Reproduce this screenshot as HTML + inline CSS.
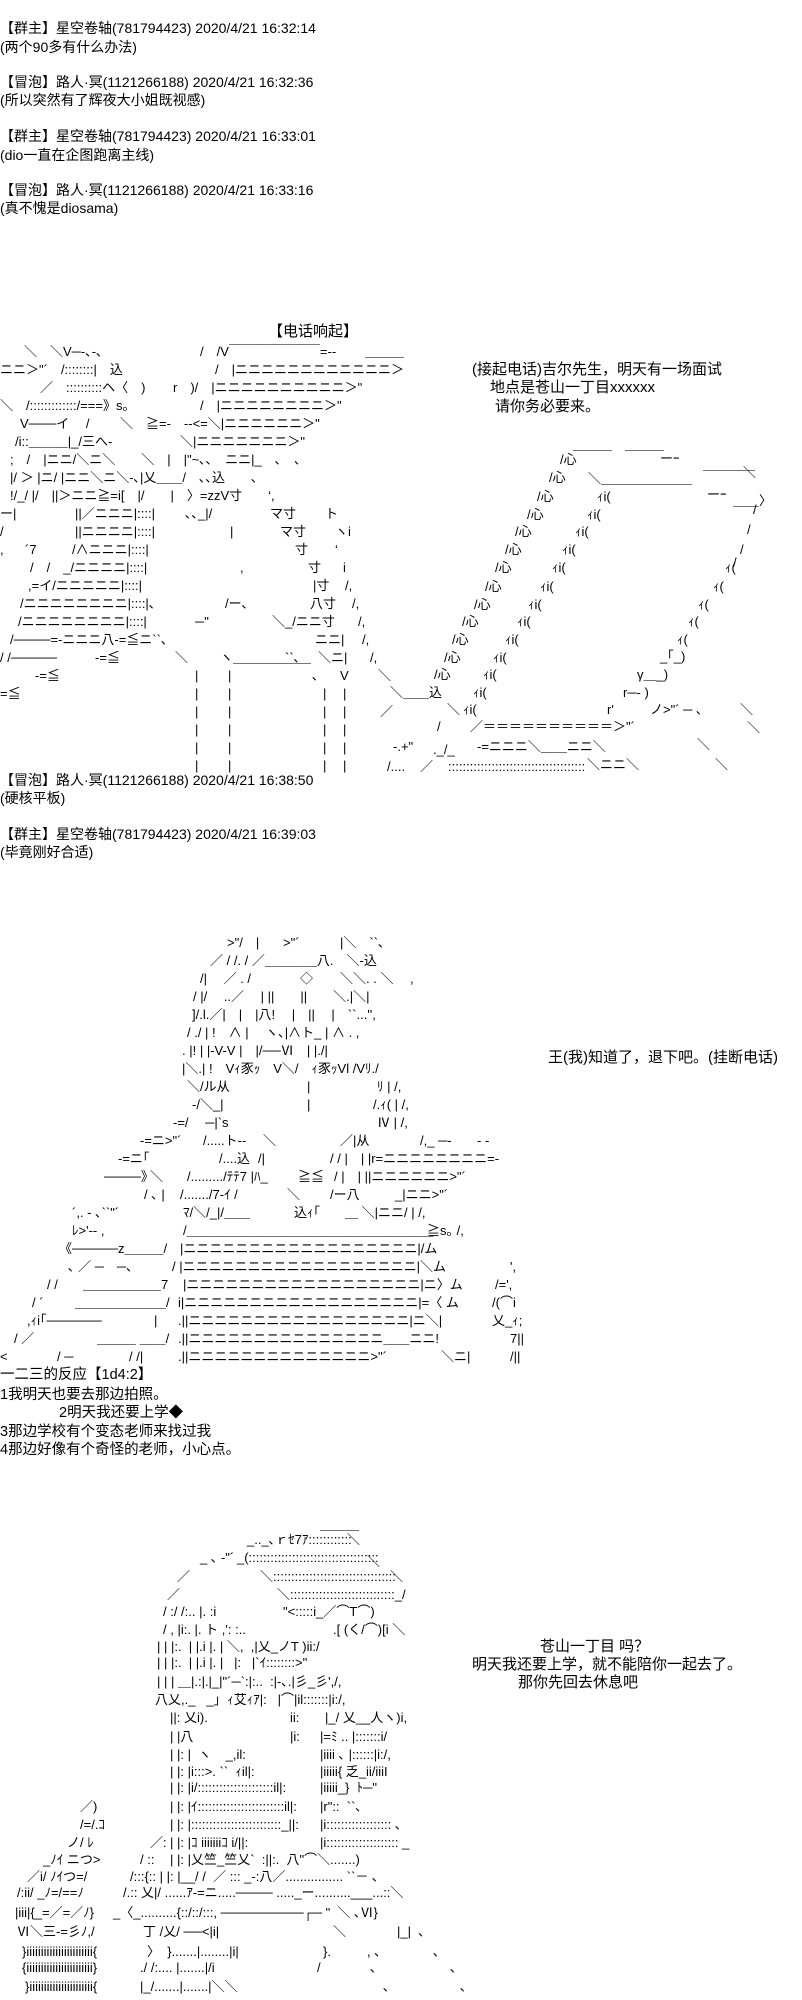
<!DOCTYPE html>
<html><head><meta charset="utf-8">
<style>
html,body{margin:0;padding:0;background:#fff;}
body{width:802px;height:2000px;position:relative;overflow:hidden;color:#000;}
i{position:absolute;font-style:normal;white-space:pre;font-family:"Liberation Sans","Noto Sans CJK JP",sans-serif;font-size:13px;line-height:18px;}
b{position:absolute;font-weight:normal;white-space:pre;font-family:"Liberation Sans","Noto Sans CJK SC",sans-serif;line-height:18px;}
.c{font-size:14px;}
.t{font-size:15px;}
.l{font-size:14.5px;}
</style></head><body>
<!-- chat 1 -->
<b class="c" style="left:0;top:19px">【群主】星空卷轴(781794423) 2020/4/21 16:32:14</b>
<b class="c" style="left:0;top:38px">(两个90多有什么办法)</b>
<b class="c" style="left:0;top:73px">【冒泡】路人·冥(1121266188) 2020/4/21 16:32:36</b>
<b class="c" style="left:0;top:91px">(所以突然有了辉夜大小姐既视感)</b>
<b class="c" style="left:0;top:127px">【群主】星空卷轴(781794423) 2020/4/21 16:33:01</b>
<b class="c" style="left:0;top:146px">(dio一直在企图跑离主线)</b>
<b class="c" style="left:0;top:181px">【冒泡】路人·冥(1121266188) 2020/4/21 16:33:16</b>
<b class="c" style="left:0;top:199px">(真不愧是diosama)</b>

<!-- AA1 -->
<b class="t" style="left:268px;top:323px">【电话响起】</b>
<i style="left:24px;top:343px">＼　＼V─-､-､</i>
<i style="left:200px;top:343px">/　/V￣￣￣￣￣￣￣=--</i>
<i style="left:365px;top:343px">＿＿＿</i>
<i style="left:0;top:361px">ニニ＞"´　/::::::::|　込</i>
<i style="left:215px;top:361px">/　|ニニニニニニニニニニニニ＞</i>
<i style="left:40px;top:379px">／　::::::::::ヘ〈　)</i>
<i style="left:173px;top:379px">r　)/　|ニニニニニニニニニニ＞"</i>
<i style="left:0;top:397px">＼　/:::::::::::::/===》s｡</i>
<i style="left:200px;top:397px">/　|ニニニニニニニニ＞"</i>
<i style="left:20px;top:415px">V───イ　 /</i>
<i style="left:120px;top:415px">＼　≧=-　--<=＼|ニニニニニニ＞"</i>
<i style="left:15px;top:433px">/i::＿＿＿|_/三へ-</i>
<i style="left:180px;top:433px">＼|ニニニニニニニ＞"</i>
<i style="left:10px;top:451px">;　/　|ニニ/＼ニ＼　　＼　|　|"~､､　ニニ|_　､　､</i>
<i style="left:10px;top:469px">|/ ＞ |ニ/ |ニニ＼ニ＼-､|乂＿＿/　､､込　　､</i>
<i style="left:10px;top:487px">!/_/ |/　||＞ニニ≧=i[　|/　　|　〉=zzV寸　　‘,</i>
<i style="left:0;top:505px">ー|</i><i style="left:75px;top:505px">||／ニニニ|::::|</i><i style="left:185px;top:505px">､､_|/</i><i style="left:270px;top:505px">マ寸</i><i style="left:325px;top:505px">ト</i>
<i style="left:0;top:523px">/</i><i style="left:75px;top:523px">||ニニニニ|::::|</i><i style="left:230px;top:523px">|</i><i style="left:280px;top:523px">マ寸</i><i style="left:335px;top:523px">ヽi</i>
<i style="left:0;top:541px">,</i><i style="left:25px;top:541px">´7</i><i style="left:72px;top:541px">/∧ニニニ|::::|</i><i style="left:295px;top:541px">寸</i><i style="left:335px;top:541px">‘</i>
<i style="left:30px;top:559px">/　/　_/ニニニニ|::::|</i><i style="left:240px;top:559px">,</i><i style="left:308px;top:559px">寸</i><i style="left:343px;top:559px">i</i>
<i style="left:28px;top:577px">,=イ/ニニニニニ|::::|</i><i style="left:313px;top:577px">|寸</i><i style="left:345px;top:577px">/,</i>
<i style="left:20px;top:595px">/ニニニニニニニニ|::::|､</i><i style="left:225px;top:595px">/ー､</i><i style="left:310px;top:595px">八寸</i><i style="left:352px;top:595px">/,</i>
<i style="left:18px;top:613px">/ニニニニニニニニ|::::|</i><i style="left:195px;top:613px">─"</i><i style="left:272px;top:613px">＼_/ニニ寸</i><i style="left:358px;top:613px">/,</i>
<i style="left:10px;top:631px">/────=-ニニニ八-=≦ニ``､</i><i style="left:315px;top:631px">ニニ|</i><i style="left:362px;top:631px">/,</i>
<i style="left:0;top:649px">/ /─────</i><i style="left:95px;top:649px">-=≦</i><i style="left:175px;top:649px">＼</i><i style="left:220px;top:649px">ヽ＿＿＿＿＿＿</i><i style="left:285px;top:649px">``､</i><i style="left:318px;top:649px">＼ニ|</i><i style="left:370px;top:649px">/,</i>
<i style="left:35px;top:667px">-=≦</i><i style="left:195px;top:667px">|</i><i style="left:228px;top:667px">|</i><i style="left:312px;top:667px">､</i><i style="left:340px;top:667px">V</i><i style="left:378px;top:667px">＼</i>
<i style="left:0;top:685px">=≦</i>
<i style="left:195px;top:685px">|
|
|
|
|</i>
<i style="left:228px;top:685px">|
|
|
|
|</i>
<i style="left:323px;top:685px">|
|
|
|
|</i>
<i style="left:343px;top:685px">|
|
|
|
|</i>

<!-- phone text -->
<b class="t" style="left:472px;top:361px">(接起电话)吉尔先生，明天有一场面试</b>
<b class="t" style="left:490px;top:379px">地点是苍山一丁目xxxxxx</b>
<b class="t" style="left:495px;top:398px">请你务必要来。</b>

<!-- laptop -->
<i style="left:573px;top:436px">＿＿＿　＿＿＿</i>
<i style="left:660px;top:450px">ーｰ</i><i style="left:703px;top:456px">＿＿＿＿</i>
<i style="left:588px;top:470px">＼＿＿＿＿＿＿＿</i><i style="left:743px;top:464px">＼</i>
<i style="left:707px;top:486px">ーｰ</i><i style="left:733px;top:492px">＿＿〉</i>
<i style="left:560px;top:451px">/心</i><i style="left:549px;top:469px">/心</i><i style="left:537px;top:488px">/心</i><i style="left:527px;top:506px">/心</i><i style="left:515px;top:523px">/心</i><i style="left:505px;top:541px">/心</i><i style="left:495px;top:559px">/心</i><i style="left:485px;top:578px">/心</i><i style="left:474px;top:596px">/心</i><i style="left:462px;top:613px">/心</i><i style="left:452px;top:631px">/心</i><i style="left:444px;top:649px">/心</i><i style="left:434px;top:666px">/心</i>
<i style="left:597px;top:488px">ｨi(</i><i style="left:587px;top:506px">ｨi(</i><i style="left:575px;top:523px">ｨi(</i><i style="left:562px;top:541px">ｨi(</i><i style="left:552px;top:559px">ｨi(</i><i style="left:540px;top:578px">ｨi(</i><i style="left:528px;top:596px">ｨi(</i><i style="left:517px;top:613px">ｨi(</i><i style="left:505px;top:631px">ｨi(</i><i style="left:493px;top:649px">ｨi(</i><i style="left:483px;top:666px">ｨi(</i><i style="left:473px;top:684px">ｨi(</i><i style="left:463px;top:701px">ｨi(</i>
<i style="left:753px;top:501px">/</i><i style="left:747px;top:521px">/</i><i style="left:740px;top:541px">/</i><i style="left:733px;top:554px">/</i>
<i style="left:725px;top:559px">ｨ(</i><i style="left:713px;top:578px">ｨ(</i><i style="left:698px;top:596px">ｨ(</i><i style="left:688px;top:613px">ｨ(</i><i style="left:677px;top:631px">ｨ(</i>
<i style="left:660px;top:648px">_｢_)</i><i style="left:637px;top:666px">γ＿_)</i><i style="left:623px;top:684px">r─‐ )</i><i style="left:607px;top:701px">r'</i><i style="left:650px;top:701px">ノ&gt;"´ ─ ､</i><i style="left:740px;top:701px">＼</i><i style="left:747px;top:719px">＼</i>
<i style="left:390px;top:684px">＼＿＿込</i><i style="left:447px;top:701px">＼</i><i style="left:380px;top:703px">／</i><i style="left:437px;top:718px">/</i>
<i style="left:470px;top:718px">／＝＝＝＝＝＝＝＝＝＝＞"´</i>
<i style="left:393px;top:738px">-.+"</i><i style="left:433px;top:741px">._/_</i><i style="left:477px;top:738px">-=ニニニ＼＿＿ニニ＼</i><i style="left:697px;top:736px">＼</i>
<i style="left:387px;top:758px">/....</i><i style="left:420px;top:758px">／</i><i style="left:448px;top:758px">::::::::::::::::::::::::::::::::::::::</i><i style="left:587px;top:756px">＼ニニ＼</i><i style="left:715px;top:756px">＼</i>

<!-- chat 2 -->
<b class="c" style="left:0;top:771px">【冒泡】路人·冥(1121266188) 2020/4/21 16:38:50</b>
<b class="c" style="left:0;top:789px">(硬核平板)</b>
<b class="c" style="left:0;top:825px">【群主】星空卷轴(781794423) 2020/4/21 16:39:03</b>
<b class="c" style="left:0;top:843px">(毕竟刚好合适)</b>

<!-- AA2 -->
<i style="left:227px;top:934px">&gt;"/　|</i><i style="left:283px;top:934px">&gt;"´</i><i style="left:340px;top:934px">|＼　``､</i>
<i style="left:210px;top:952px">／ / /. / ／＿＿＿＿八.　＼-込</i>
<i style="left:200px;top:970px">/|　 ／ . /</i><i style="left:300px;top:970px">◇</i><i style="left:340px;top:970px">＼＼. . ＼</i><i style="left:410px;top:970px">,</i>
<i style="left:193px;top:988px">/ |/　 ..／　 | ||　　||　　＼.|＼|</i>
<i style="left:192px;top:1006px">]/.l.／|　|　|八!　 |　||　 |　``...'',</i>
<i style="left:187px;top:1024px">/ ./ | !　∧ |　 ヽ､|∧ト_ | ∧ . ,</i>
<i style="left:182px;top:1042px">. |! | |-V-V |　|/──Ⅵ　| |./|</i>
<i style="left:182px;top:1060px">|＼.| !　Vｨ豕ｯ　V＼/　ｨ豕ｯVl /Vﾘ./</i>
<i style="left:187px;top:1078px">＼/ル从</i><i style="left:307px;top:1078px">|</i><i style="left:377px;top:1078px">ﾘ | /,</i>
<i style="left:192px;top:1096px">-/＼_|</i><i style="left:307px;top:1096px">|</i><i style="left:373px;top:1096px">/.ｨ( | /,</i>
<i style="left:173px;top:1114px">-=/　 ─|`s</i><i style="left:377px;top:1114px">Ⅳ | /,</i>
<i style="left:140px;top:1132px">-=ニ&gt;"´</i><i style="left:203px;top:1132px">/.....ト--</i><i style="left:263px;top:1132px">＼</i><i style="left:340px;top:1132px">／|从</i><i style="left:420px;top:1132px">/,_ ─-</i><i style="left:477px;top:1132px">- -</i>
<i style="left:118px;top:1150px">-=ニ｢</i><i style="left:219px;top:1150px">/....込</i><i style="left:258px;top:1150px">/|</i><i style="left:330px;top:1150px">/ / |　| |r=ニニニニニニニニ=-</i>
<i style="left:104px;top:1168px">────》</i><i style="left:150px;top:1168px">＼</i><i style="left:187px;top:1168px">/........./ﾃﾃ7 |ﾊ_</i><i style="left:298px;top:1168px">≧≦</i><i style="left:334px;top:1168px">/ |　| ||ニニニニニニ&gt;"´</i>
<i style="left:144px;top:1186px">/ ､ |</i><i style="left:180px;top:1186px">/......./7-ｲ /</i><i style="left:287px;top:1186px">＼</i><i style="left:330px;top:1186px">/ー八</i><i style="left:395px;top:1186px">_|ニニ&gt;"´</i>
<i style="left:72px;top:1204px">´,. - ､``"´</i><i style="left:183px;top:1204px">ﾏ/＼/_|/＿＿</i><i style="left:294px;top:1204px">込ｨ｢</i><i style="left:345px;top:1204px">＿ ＼|ニニ/ | /,</i>
<i style="left:72px;top:1222px">ﾚ&gt;'-- ,</i><i style="left:183px;top:1222px">/＿＿＿＿＿＿＿＿＿＿＿＿＿＿＿＿＿＿＿</i><i style="left:427px;top:1222px">≧s｡ /,</i>
<i style="left:59px;top:1240px">《─────z＿＿＿/</i><i style="left:180px;top:1240px">|ニニニニニニニニニニニニニニニニニニ|/ム</i>
<i style="left:68px;top:1258px">､ ／ ─　─､</i><i style="left:172px;top:1258px">/ |ニニニニニニニニニニニニニニニニニニ|＼ム</i><i style="left:510px;top:1258px">',</i>
<i style="left:47px;top:1276px">/ /</i><i style="left:83px;top:1276px">＿＿＿＿＿＿7</i><i style="left:183px;top:1276px">|ニニニニニニニニニニニニニニニニニニ|ニ〉ム</i><i style="left:495px;top:1276px">/=',</i>
<i style="left:32px;top:1294px">/ ´</i><i style="left:75px;top:1294px">＿＿＿＿＿＿＿/</i><i style="left:178px;top:1294px">i|ニニニニニニニニニニニニニニニニニニ|=〈 ム</i><i style="left:492px;top:1294px">/(⌒i</i>
<i style="left:27px;top:1312px">,ｨi｢──────</i><i style="left:154px;top:1312px">|</i><i style="left:178px;top:1312px">.||ニニニニニニニニニニニニニニニニニ|ニ＼|</i><i style="left:492px;top:1312px">乂_ｨ;</i>
<i style="left:14px;top:1330px">/ ／</i><i style="left:97px;top:1330px">＿＿＿ ＿＿/</i><i style="left:178px;top:1330px">.||ニニニニニニニニニニニニニニニ＿＿ニニ!</i><i style="left:510px;top:1330px">7||</i>
<i style="left:0;top:1348px">&lt;</i><i style="left:57px;top:1348px">/ ─</i><i style="left:129px;top:1348px">/ /|</i><i style="left:178px;top:1348px">.||ニニニニニニニニニニニニニニ&gt;"´</i><i style="left:441px;top:1348px">＼ニ|</i><i style="left:510px;top:1348px">/||</i>
<b class="t" style="left:548px;top:1049px">王(我)知道了，退下吧。(挂断电话)</b>

<!-- list -->
<b class="l" style="left:0;top:1366px">一二三的反应【1d4:2】</b>
<b class="l" style="left:0;top:1386px">1我明天也要去那边拍照。</b>
<b class="l" style="left:59px;top:1404px">2明天我还要上学◆</b>
<b class="l" style="left:0;top:1423px">3那边学校有个变态老师来找过我</b>
<b class="l" style="left:0;top:1441px">4那边好像有个奇怪的老师，小心点。</b>

<!-- AA3 -->
<i style="left:320px;top:1516px">＿＿＿</i>
<i style="left:247px;top:1531px">_.._､ｒｾ7ｱ::::::::::::</i><i style="left:347px;top:1531px">＼</i>
<i style="left:200px;top:1549px">_ ､ -"´</i><i style="left:237px;top:1549px">_(::::::::::::::::::::::::::::::::::::</i><i style="left:367px;top:1553px">＼</i>
<i style="left:177px;top:1568px">／</i><i style="left:260px;top:1568px">＼::::::::::::::::::::::::::::::::::</i><i style="left:390px;top:1568px">＼</i>
<i style="left:167px;top:1586px">／</i><i style="left:277px;top:1586px">＼:::::::::::::::::::::::::::::_/</i>
<i style="left:163px;top:1603px">/ :/ /:.. |. :i</i><i style="left:283px;top:1603px">"&lt;:::::i_／⌒T⌒)</i>
<i style="left:163px;top:1621px">/ , |i:. |. ト ,': :..</i><i style="left:333px;top:1621px">.[ (く/⌒)[i ＼</i>
<i style="left:157px;top:1638px">| | |:.  | |.i |. | ＼,  ,|乂_ノT )ii:/</i>
<i style="left:157px;top:1654px">| | |:.  | |.i |. |   |:   |`ｲ::::::::&gt;"</i>
<i style="left:157px;top:1673px">| | | ＿|.:|.|_|"´─`:|:..  :|-､.|彡_彡',/,</i>
<i style="left:155px;top:1691px">八乂,._   _｣  ｨ艾ｨｱ|:   |⌒|il:::::::|i:/,</i>
<i style="left:170px;top:1709px">||: 乂i).</i><i style="left:290px;top:1709px">ii:</i><i style="left:325px;top:1709px">|_/ 乂__人ヽ)i,</i>
<i style="left:170px;top:1728px">| |八</i><i style="left:290px;top:1728px">|i:</i><i style="left:320px;top:1728px">|=ﾐ .. |:::::::i/</i>
<i style="left:170px;top:1746px">| |: |  ヽ    _,il:</i><i style="left:320px;top:1746px">|iiii ､ |::::::|i:/,</i>
<i style="left:170px;top:1763px">| |: |i:::&gt;. ``  ｨil|:</i><i style="left:320px;top:1763px">|iiiii{ 乏_ii/iiiI</i>
<i style="left:170px;top:1779px">| |: |i/:::::::::::::::::::::il|:</i><i style="left:320px;top:1779px">|iiiii_}  ﾄ─"</i>
<i style="left:80px;top:1798px">／)</i><i style="left:170px;top:1798px">| |: |ｲ::::::::::::::::::::::::il|:</i><i style="left:320px;top:1798px">|r"::  ``､</i>
<i style="left:80px;top:1816px">/=/.ｺ</i><i style="left:170px;top:1816px">| |: |:::::::::::::::::::::::::_||:</i><i style="left:320px;top:1816px">|i:::::::::::::::::: ､</i>
<i style="left:67px;top:1834px">ノ/ ﾚ</i><i style="left:150px;top:1834px">／:</i><i style="left:170px;top:1834px">| |: |ｺ iiiiiiiｺ i/||:</i><i style="left:320px;top:1834px">|i:::::::::::::::::::: _</i>
<i style="left:43px;top:1851px">_ﾉｲ ニつ&gt;</i><i style="left:140px;top:1851px">/ ::</i><i style="left:170px;top:1851px">| |: |乂竺_竺乂`  :||:.  八"⌒＼.......)</i>
<i style="left:27px;top:1868px">／i/ ﾉｲつ=/</i><i style="left:130px;top:1868px">/:::{:: | |: |__/ /  ／ ::: _-:八／................ ``－ ､</i>
<i style="left:17px;top:1884px">/:ii/ _ﾉ=/==ﾉ</i><i style="left:123px;top:1884px">/.:: 乂|/ ......ｱ-=ニ.....──── ....._ー..........___...::＼</i>
<i style="left:15px;top:1904px">|iii|{_=／=／ﾉ}</i><i style="left:113px;top:1904px">_〈_..........{::/::/:::, ─────────┌─ "  ＼ ､Ⅵ}</i>
<i style="left:17px;top:1923px">Ⅵ＼三-=彡ﾉ,/</i><i style="left:143px;top:1923px">丁 /乂/ ──&lt;|i|</i><i style="left:333px;top:1923px">＼</i><i style="left:397px;top:1923px">|_|  ､</i>
<i style="left:22px;top:1943px">}iiiiiiiiiiiiiiiiiiiiiii{</i><i style="left:147px;top:1943px">〉  }.......|........|i|</i><i style="left:323px;top:1943px">}.</i><i style="left:367px;top:1943px">, ､</i><i style="left:433px;top:1943px">､</i>
<i style="left:22px;top:1959px">{iiiiiiiiiiiiiiiiiiiiiii}</i><i style="left:140px;top:1959px">./ /:.... |.......|/i</i><i style="left:317px;top:1959px">/</i><i style="left:370px;top:1959px">､</i><i style="left:450px;top:1959px">､</i>
<i style="left:25px;top:1978px">}iiiiiiiiiiiiiiiiiiiiii{</i><i style="left:140px;top:1978px">|_/.......|.......|＼＼</i><i style="left:383px;top:1978px">､</i><i style="left:460px;top:1978px">､</i>

<b class="t" style="left:540px;top:1638px">苍山一丁目 吗？</b>
<b class="t" style="left:472px;top:1656px">明天我还要上学，就不能陪你一起去了。</b>
<b class="t" style="left:518px;top:1674px">那你先回去休息吧</b>
</body></html>
